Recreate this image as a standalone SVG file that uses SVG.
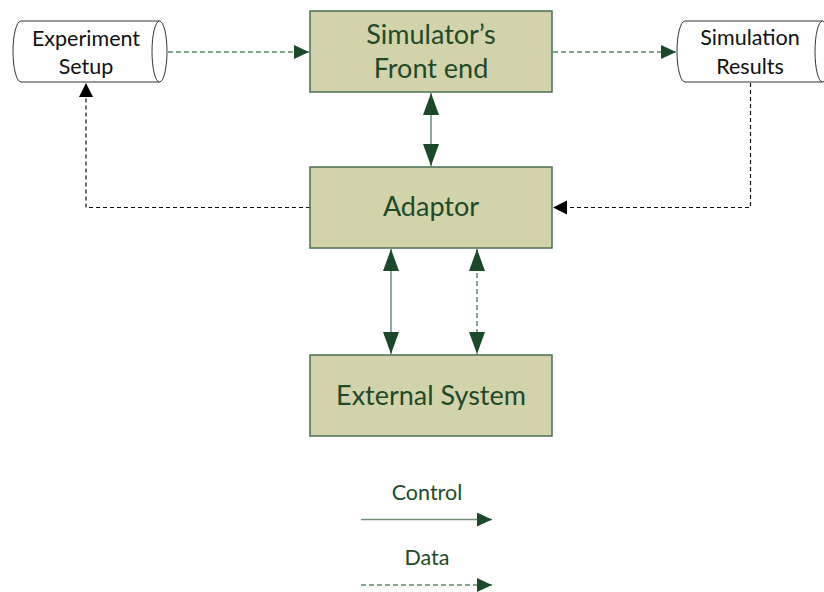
<svg xmlns="http://www.w3.org/2000/svg" width="824" height="592" viewBox="0 0 824 592">
<style>
.box{fill:#d3d3ab;stroke:#4b6f51;stroke-width:1.5}
.store{fill:#ffffff;stroke:#333333;stroke-width:1}
.big{font-family:Lato,"Liberation Sans",sans-serif;font-size:27px;fill:#1e4a2a;text-anchor:middle}
.small{font-family:Lato,"Liberation Sans",sans-serif;font-size:21.5px;fill:#111111;text-anchor:middle}
.leg{font-family:Lato,"Liberation Sans",sans-serif;font-size:21.5px;fill:#1e4a2a;text-anchor:middle}
.ctl{fill:none;stroke:#6e8e76;stroke-width:1.5}
.dat{fill:none;stroke:#5d8a69;stroke-width:1.5;stroke-dasharray:5 3}
.blk{fill:none;stroke:#111111;stroke-width:1.2;stroke-dasharray:4 3}
</style>
<defs>
<marker id="big" markerUnits="userSpaceOnUse" markerWidth="24" markerHeight="18" refX="22" refY="8" orient="auto-start-reverse" viewBox="0 0 24 18"><path d="M0,0 L22,8 L0,16 Z" fill="#1b4a2a"/></marker>
<marker id="grn" markerUnits="userSpaceOnUse" markerWidth="16" markerHeight="16" refX="15" refY="7" orient="auto" viewBox="0 0 16 16"><path d="M0,0 L15,7 L0,14 Z" fill="#1b4a2a"/></marker>
<marker id="blk" markerUnits="userSpaceOnUse" markerWidth="16" markerHeight="16" refX="14" refY="7" orient="auto" viewBox="0 0 16 16"><path d="M0,0 L14,7 L0,14 Z" fill="#000000"/></marker>
</defs>
<g id="connectors">
<path class="dat" d="M168,52 H309" marker-end="url(#grn)"/>
<path class="dat" d="M553,52 H676" marker-end="url(#grn)"/>
<path class="ctl" d="M431,93 V166" marker-start="url(#big)" marker-end="url(#big)"/>
<path class="blk" d="M310,207.5 H86 V83" marker-end="url(#blk)"/>
<path class="blk" d="M750.5,83 V207.5 H553" marker-end="url(#blk)"/>
<path class="ctl" d="M391,249 V354" marker-start="url(#big)" marker-end="url(#big)"/>
<path class="dat" d="M477,249 V354" marker-start="url(#big)" marker-end="url(#big)"/>
</g>
<g id="front-end">
<rect class="box" x="310" y="11" width="242" height="81"/>
<text class="big" x="431" y="44">Simulator’s</text>
<text class="big" x="431" y="78">Front end</text>
</g>
<g id="adaptor">
<rect class="box" x="310" y="167" width="242" height="81"/>
<text class="big" x="431" y="216">Adaptor</text>
</g>
<g id="external-system">
<rect class="box" x="310" y="355" width="242" height="81"/>
<text class="big" x="431" y="405">External System</text>
</g>
<g id="experiment-setup">
<path class="store" d="M21,21 H159.5 A7.5,30.5 0 0 1 159.5,82 H21 A8,30.5 0 0 1 21,21 Z"/>
<path class="store" d="M159.5,21 A7.5,30.5 0 0 0 159.5,82" fill="none"/>
<text class="small" x="86" y="46">Experiment</text>
<text class="small" x="86" y="74">Setup</text>
</g>
<g id="simulation-results">
<path class="store" d="M685,21 H822.5 A7.5,30.5 0 0 1 822.5,82 H685 A8,30.5 0 0 1 685,21 Z"/>
<path class="store" d="M822.5,21 A7.5,30.5 0 0 0 822.5,82" fill="none"/>
<text class="small" x="750" y="45">Simulation</text>
<text class="small" x="750" y="74">Results</text>
</g>
<g id="legend">
<text class="leg" x="427" y="500">Control</text>
<path class="ctl" d="M361,519.5 H492" marker-end="url(#grn)"/>
<text class="leg" x="427" y="565">Data</text>
<path class="dat" d="M361,585 H492" marker-end="url(#grn)"/>
</g>
</svg>
